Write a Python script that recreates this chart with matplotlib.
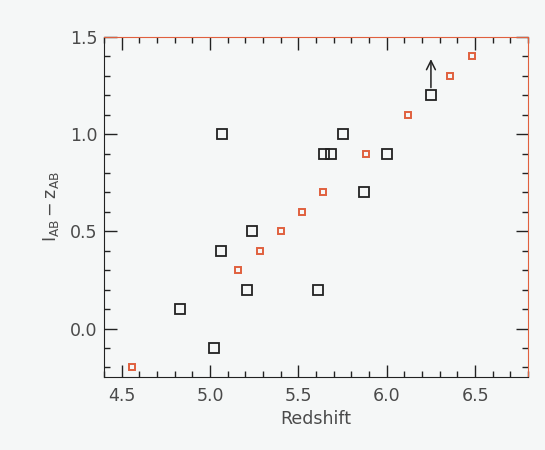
import matplotlib
matplotlib.use("Agg")
import matplotlib.pyplot as plt
from matplotlib.ticker import MultipleLocator

# black open squares
z_black = [4.83, 5.02, 5.06, 5.065, 5.21, 5.235, 5.61, 5.647, 5.685, 5.75, 5.87, 6.0, 6.25]
c_black = [0.1, -0.1, 0.4, 1.0, 0.2, 0.5, 0.2, 0.9, 0.9, 1.0, 0.7, 0.9, 1.2]

# red small squares
z_red = [4.56, 5.16, 5.28, 5.40, 5.52, 5.64, 5.88, 6.12, 6.36, 6.48]
c_red = [-0.2, 0.3, 0.4, 0.5, 0.6, 0.7, 0.9, 1.1, 1.3, 1.4]

# lower limit arrow
arrow_z = 6.25
arrow_from = 1.2
arrow_to = 1.4

bg = "#f5f7f7"
red = "#e0603e"
txt = "#4a4a4a"

plt.rcParams['font.family'] = ['DejaVu Sans']
plt.rcParams['mathtext.default'] = 'regular'

fig = plt.figure(figsize=(5.45, 4.5), dpi=100, facecolor=bg)
ax = fig.add_axes([0.191, 0.162, 0.778, 0.756], facecolor=bg)

ax.plot(z_black, c_black, ls="none", marker="s", ms=7.4, mfc="none", mec="#222222", mew=1.3)
ax.plot(z_red, c_red, ls="none", marker="s", ms=5, mfc="none", mec=red, mew=1.4)
ax.annotate("", xy=(arrow_z, arrow_to), xytext=(arrow_z, arrow_from + 0.025),
            arrowprops=dict(arrowstyle="->", color="#222222", lw=1.1, mutation_scale=16))

ax.set_xlim(4.4, 6.8)
ax.set_ylim(-0.25, 1.5)
ax.xaxis.set_major_locator(MultipleLocator(0.5))
ax.xaxis.set_minor_locator(MultipleLocator(0.1))
ax.yaxis.set_major_locator(MultipleLocator(0.5))
ax.yaxis.set_minor_locator(MultipleLocator(0.1))
ax.xaxis.set_major_formatter(matplotlib.ticker.FormatStrFormatter('%.1f'))
ax.yaxis.set_major_formatter(matplotlib.ticker.FormatStrFormatter('%.1f'))
ax.tick_params(which="both", direction="in", top=True, right=True, colors="#222222",
               labelcolor=txt, labelsize=12.5)
ax.tick_params(axis="x", which="major", pad=7)
ax.tick_params(axis="y", which="major", pad=5)
ax.tick_params(which="major", length=9, width=1)
ax.tick_params(which="minor", length=4.5, width=1)

for s in ["left", "bottom"]:
    ax.spines[s].set_color("#222222")
for s in ["top", "right"]:
    ax.spines[s].set_color(red)

ax.set_xlabel("Redshift", color=txt, fontsize=12.5, labelpad=4)
ax.set_ylabel("$I_{AB} - z_{AB}$", color=txt, fontsize=12.5, labelpad=6)

fig.savefig("out.png", dpi=100, facecolor=bg)
